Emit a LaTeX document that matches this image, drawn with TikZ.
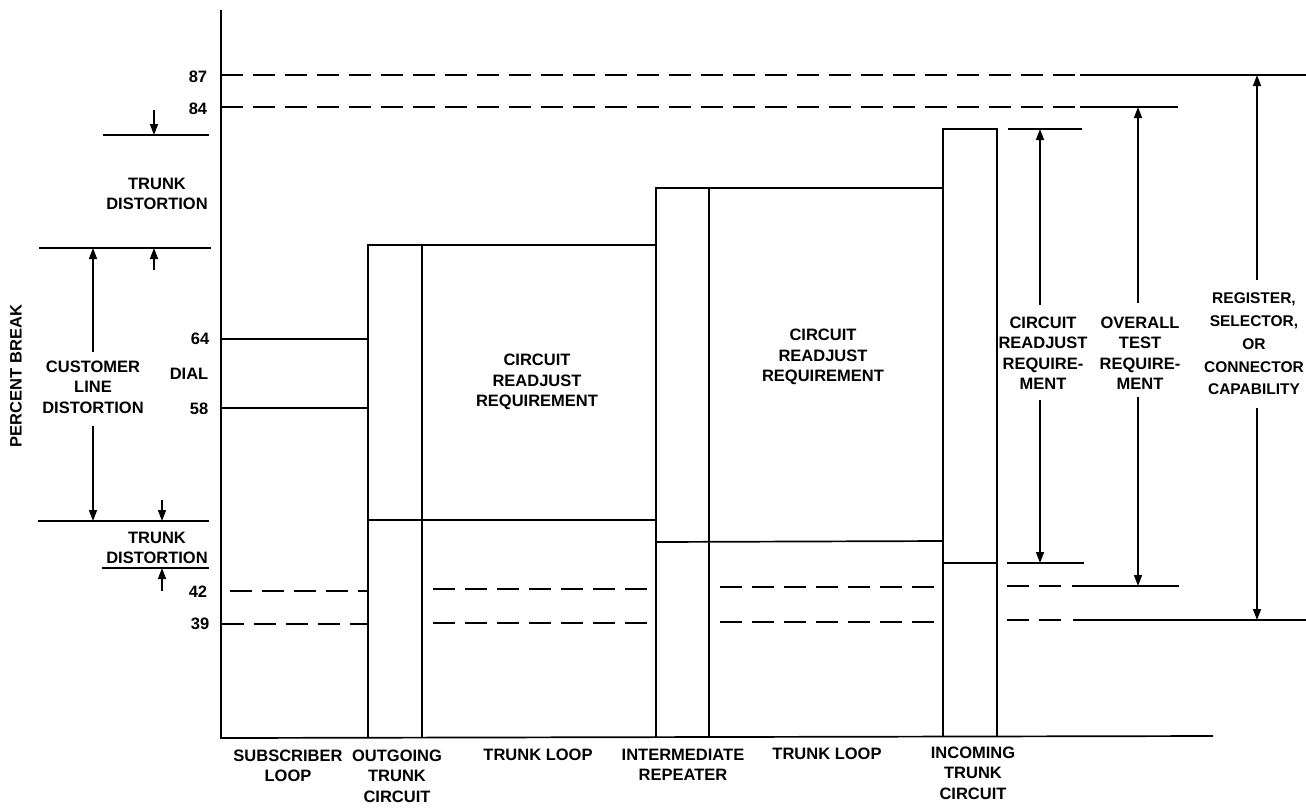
\documentclass[tikz,border=0pt]{standalone}
\usepackage{fontspec}
\setmainfont{Liberation Sans}
\usetikzlibrary{arrows.meta}
\begin{document}
\begin{tikzpicture}[x=1pt,y=-1pt,
  ln/.style={line width=1.7pt},
  dsh/.style={line width=1.7pt,dash pattern=on 22pt off 10pt},
  arr/.style={line width=1.5pt,-{Triangle[length=11pt,width=8pt]}},
  lbl/.style={font=\fontsize{16.5}{20.5}\selectfont\bfseries,align=center,inner sep=0pt},
  lblw/.style={font=\fontsize{15.5}{22.75}\selectfont\bfseries,align=center,inner sep=0pt}]
\useasboundingbox (0,0) rectangle (1306,807);
% axes
\coordinate (ytop) at (221,10);
\coordinate (o) at (221,738);
\coordinate (xend) at (1213,736);
\draw[ln] (ytop) -- (o) -- (xend);
% reference dashed lines
\draw[dsh] (221,75) -- (1080,75);
\draw[ln] (1080,75) -- (1306,75);
\draw[dsh] (221,107) -- (1080,107);
\draw[ln] (1080,107) -- (1178,107);
\draw[dsh] (230,591) -- (368,591);
\draw[dsh] (222,624) -- (368,624);
\draw[dsh] (433,589) -- (648,589);
\draw[dsh] (433,623) -- (648,623);
\draw[dsh] (720,587) -- (937,587);
\draw[dsh] (720,622) -- (937,622);
\draw[dsh] (1007,586) -- (1067,586);
\draw[ln] (1072,586) -- (1179,586);
\draw[dsh] (1007,620) -- (1067,620);
\draw[ln] (1073,620) -- (1306,620);
% subscriber loop
\draw[ln] (221,339) -- (368,339);
\draw[ln] (221,408) -- (368,408);
% outgoing trunk circuit + trunk loop 1
\draw[ln] (368,738) -- (368,245) -- (656,245);
\draw[ln] (422,245) -- (422,738);
\draw[ln] (368,520) -- (656,520);
% intermediate repeater + trunk loop 2
\draw[ln] (656,738) -- (656,188) -- (943,188);
\draw[ln] (709,188) -- (709,738);
\draw[ln] (656,542) -- (943,541);
% incoming trunk circuit
\draw[ln] (943,737) -- (943,129) -- (997,129) -- (997,737);
\draw[ln] (943,563) -- (997,563);
% right requirement lines
\draw[ln] (1008,129) -- (1082,129);
\draw[ln] (1007,563) -- (1084,563);
% left annotation lines
\draw[ln] (103,135) -- (209,135);
\draw[ln] (39,248) -- (211,248);
\draw[ln] (38,521) -- (209,521);
\draw[ln] (102,568) -- (209,568);
% arrow coordinates
\coordinate (a1s) at (154,110); \coordinate (a1e) at (154,135);
\coordinate (a2s) at (154,270); \coordinate (a2e) at (154,248);
\coordinate (a3s) at (93,352);  \coordinate (a3e) at (93,248);
\coordinate (a4s) at (93,426);  \coordinate (a4e) at (93,521);
\coordinate (a5s) at (162,500); \coordinate (a5e) at (162,521);
\coordinate (a6s) at (162,591); \coordinate (a6e) at (162,568);
\coordinate (r1s) at (1040,305); \coordinate (r1e) at (1040,129);
\coordinate (r2s) at (1040,400); \coordinate (r2e) at (1040,563);
\coordinate (r3s) at (1138,303); \coordinate (r3e) at (1138,107);
\coordinate (r4s) at (1138,397); \coordinate (r4e) at (1138,586);
\coordinate (r5s) at (1257,280); \coordinate (r5e) at (1257,75);
\coordinate (r6s) at (1257,408); \coordinate (r6e) at (1257,620);
\foreach \p in {a1,a2,a3,a4,a5,a6,r1,r2,r3,r4,r5,r6} \draw[arr] (\p s) -- (\p e);
% value labels
\node[lbl] (v87) at (198,77) {87};
\node[lbl] (v84) at (198,109) {84};
\node[lbl] (v64) at (200,339) {64};
\node[lbl] (v58) at (199,409) {58};
\node[lbl] (v42) at (198,592) {42};
\node[lbl] (v39) at (200,624) {39};
\node[lbl] (dial) at (189,374) {DIAL};
\node[lbl,rotate=90] (pb) at (16,376) {PERCENT BREAK};
\node[lbl] (td1) at (157,194) {TRUNK\\DISTORTION};
\node[lbl] (cld) at (93,387) {CUSTOMER\\LINE\\DISTORTION};
\node[lbl] (td2) at (157,548) {TRUNK\\DISTORTION};
\node[lbl] (cr1) at (537,382) {CIRCUIT\\READJUST\\REQUIREMENT};
\node[lbl] (cr2) at (823,357) {CIRCUIT\\READJUST\\REQUIREMENT};
\node[lbl] (cr3) at (1043,353) {CIRCUIT\\READJUST\\REQUIRE-\\MENT};
\node[lbl] (ot) at (1140,353) {OVERALL\\TEST\\REQUIRE-\\MENT};
\node[lblw] (reg) at (1254,344) {REGISTER,\\SELECTOR,\\OR\\CONNECTOR\\CAPABILITY};
% bottom labels
\node[lbl] (b1) at (288,766) {SUBSCRIBER\\LOOP};
\node[lbl] (b2) at (397,776) {OUTGOING\\TRUNK\\CIRCUIT};
\node[lbl] (b3) at (538,755) {TRUNK LOOP};
\node[lbl] (b4) at (683,765) {INTERMEDIATE\\REPEATER};
\node[lbl] (b5) at (827,754) {TRUNK LOOP};
\node[lbl] (b6) at (973,773) {INCOMING\\TRUNK\\CIRCUIT};
\end{tikzpicture}
\end{document}
